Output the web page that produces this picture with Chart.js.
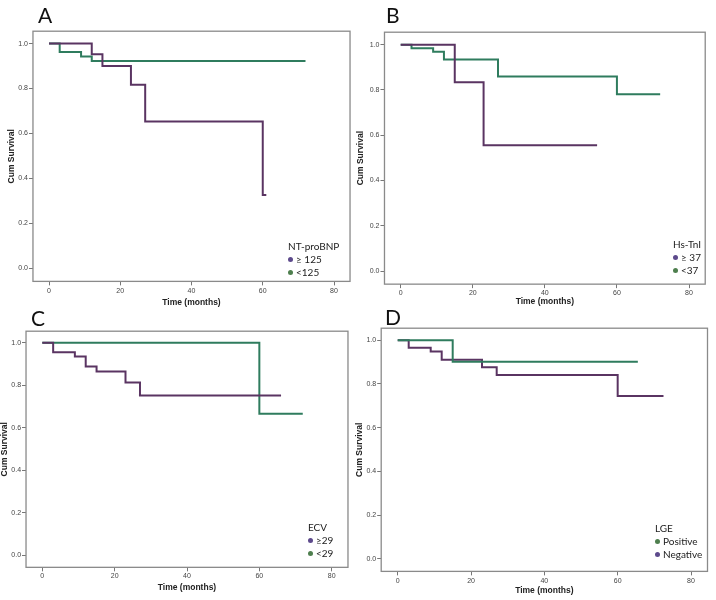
<!DOCTYPE html>
<html><head><meta charset="utf-8">
<script src="https://cdn.jsdelivr.net/npm/chart.js@4.4.1/dist/chart.umd.min.js"></script>
<style>
html,body{margin:0;padding:0;background:#fff;width:716px;height:600px;overflow:hidden;position:relative}
canvas{position:absolute}
.letter{position:absolute;font-family:Lato,sans-serif;font-size:21px;line-height:21px;color:#111}
.legend{position:absolute;font-family:Lato,sans-serif;font-size:10px;line-height:13px;color:#222;white-space:nowrap}
.dot{display:inline-block;width:5px;height:5px;border-radius:50%;margin-right:3px;vertical-align:1px}
</style></head><body>
<script>
// ---- data ----
const xTicks = [0, 20, 40, 60, 80];
const yTicks = [0, 0.2, 0.4, 0.6, 0.8, 1.0];
const xTitle = 'Time (months)';
const yTitle = 'Cum Survival';

const panelLetters = ['A', 'B', 'C', 'D'];
const legendTitles = ['NT-proBNP', 'Hs-TnI', 'ECV', 'LGE'];

// Panel A: NT-proBNP
const aHighLabel = '≥ 125';
const aHighTime = [0, 12, 15, 23, 27, 60, 61];
const aHighSurv = [1.0, 0.953, 0.900, 0.817, 0.653, 0.326, 0.326];
const aLowLabel = '<125';
const aLowTime = [0, 3, 9, 12, 72];
const aLowSurv = [1.0, 0.963, 0.942, 0.922, 0.922];

// Panel B: Hs-TnI
const bHighLabel = '≥ 37';
const bHighTime = [0, 15, 23, 54.5];
const bHighSurv = [1.0, 0.834, 0.556, 0.556];
const bLowLabel = '<37';
const bLowTime = [0, 3, 9, 12, 27, 60, 72];
const bLowSurv = [1.0, 0.984, 0.969, 0.934, 0.859, 0.781, 0.781];

// Panel C: ECV
const cHighLabel = '≥29';
const cHighTime = [0, 3, 9, 12, 15, 23, 27, 66];
const cHighSurv = [1.0, 0.956, 0.936, 0.889, 0.865, 0.813, 0.752, 0.752];
const cLowLabel = '<29';
const cLowTime = [0, 60, 72];
const cLowSurv = [1.0, 0.666, 0.666];

// Panel D: LGE
const dPosLabel = 'Positive';
const dPosTime = [0, 15, 65.5];
const dPosSurv = [1.0, 0.902, 0.902];
const dNegLabel = 'Negative';
const dNegTime = [0, 3, 9, 12, 23, 27, 60, 72.5];
const dNegSurv = [1.0, 0.965, 0.948, 0.911, 0.876, 0.841, 0.745, 0.745];

// ---- styles ----
const PURPLE = '#5a3462';
const GREEN = '#2f7c5e';
const PURPLE_DOT = '#5d4a8c';
const GREEN_DOT = '#4e7f4e';

const panelSeries = [
  [{label: aHighLabel, t: aHighTime, s: aHighSurv, c: PURPLE, d: PURPLE_DOT}, {label: aLowLabel, t: aLowTime, s: aLowSurv, c: GREEN, d: GREEN_DOT}],
  [{label: bHighLabel, t: bHighTime, s: bHighSurv, c: PURPLE, d: PURPLE_DOT}, {label: bLowLabel, t: bLowTime, s: bLowSurv, c: GREEN, d: GREEN_DOT}],
  [{label: cHighLabel, t: cHighTime, s: cHighSurv, c: PURPLE, d: PURPLE_DOT}, {label: cLowLabel, t: cLowTime, s: cLowSurv, c: GREEN, d: GREEN_DOT}],
  [{label: dPosLabel, t: dPosTime, s: dPosSurv, c: GREEN, d: GREEN_DOT}, {label: dNegLabel, t: dNegTime, s: dNegSurv, c: PURPLE, d: PURPLE_DOT}]
];

// ---- layout (page pixel anchors) ----
const X_MIN = -4.5, X_MAX = 84.5, Y_MIN = -0.058, Y_MAX = 1.055;
const layouts = [
  {x0: 49, x80: 334, y1: 42.7, y0: 268.3, yTitleX: 11.5, xTitleY: 303, letter: [38, 3.5], legend: [288, 239.8]},
  {x0: 400.7, x80: 689, y1: 44.3, y0: 271, yTitleX: 361, xTitleY: 302, letter: [386, 3.5], legend: [673, 237.8]},
  {x0: 42.3, x80: 331.7, y1: 342.3, y0: 555, yTitleX: 4.5, xTitleY: 587.5, letter: [31, 306.5], legend: [308, 520.8]},
  {x0: 397.7, x80: 691, y1: 340, y0: 558.7, yTitleX: 359.5, xTitleY: 591, letter: [385, 305.5], legend: [655, 521.8]}
];

const boxPlugin = {
  id: 'box',
  afterDraw(chart) {
    const a = chart.chartArea, ctx = chart.ctx;
    ctx.save();
    ctx.strokeStyle = '#8a8a8a';
    ctx.lineWidth = 1.3;
    ctx.strokeRect(a.left, a.top, a.right - a.left, a.bottom - a.top);
    ctx.restore();
  }
};

function build(idx) {
  const p = layouts[idx];
  const sx = (p.x80 - p.x0) / 80, sy = (p.y0 - p.y1);
  const boxL = p.x0 + X_MIN * sx, boxR = p.x0 + X_MAX * sx;
  const boxT = p.y0 - Y_MAX * sy, boxB = p.y0 - Y_MIN * sy;
  const cL = Math.floor(p.yTitleX - 8.1), cT = Math.floor(boxT - 4);
  const cR = Math.ceil(boxR + 6), cB = Math.ceil(p.xTitleY + 8.1);
  const cv = document.createElement('canvas');
  cv.width = cR - cL; cv.height = cB - cT;
  cv.style.left = cL + 'px'; cv.style.top = cT + 'px';
  cv.style.width = (cR - cL) + 'px'; cv.style.height = (cB - cT) + 'px';
  document.body.appendChild(cv);

  const datasets = panelSeries[idx].map(sr => ({
    label: sr.label,
    data: sr.t.map((t, i) => ({x: t, y: sr.s[i]})),
    borderColor: sr.c,
    borderWidth: 2,
    pointRadius: 0,
    fill: false,
    stepped: true
  }));

  const tickFont = {size: 7, family: 'Liberation Sans'};
  const titleFont = {size: 8.5, weight: 'bold', family: 'Liberation Sans', lineHeight: 1.2};

  new Chart(cv, {
    type: 'line',
    data: {datasets},
    options: {
      responsive: false, animation: false, devicePixelRatio: 1,
      layout: {padding: {left: 0, top: boxT - cT, right: cR - boxR, bottom: 0}},
      plugins: {legend: {display: false}, tooltip: {enabled: false}},
      scales: {
        x: {
          type: 'linear', min: X_MIN, max: X_MAX,
          afterFit: s => { s.height = cB - boxB; },
          afterBuildTicks: s => { s.ticks = xTicks.map(v => ({value: v})); },
          ticks: {font: tickFont, color: '#444', padding: 1, maxRotation: 0, autoSkip: false, callback: v => String(v)},
          grid: {drawOnChartArea: false, tickLength: 4, color: '#777'},
          border: {display: false},
          title: {display: true, text: xTitle, font: titleFont, color: '#222', padding: {top: 0, bottom: cB - p.xTitleY - 5.1}}
        },
        y: {
          type: 'linear', min: Y_MIN, max: Y_MAX,
          afterFit: s => { s.width = boxL - cL; },
          afterBuildTicks: s => { s.ticks = yTicks.map(v => ({value: v})); },
          ticks: {font: tickFont, color: '#444', padding: 1, autoSkip: false, callback: v => Number(v).toFixed(1)},
          grid: {drawOnChartArea: false, tickLength: 4, color: '#777'},
          border: {display: false},
          title: {display: true, text: yTitle, font: titleFont, color: '#222', padding: {top: p.yTitleX - cL - 5.1, bottom: 0}}
        }
      }
    },
    plugins: [boxPlugin]
  });

  const L = document.createElement('div');
  L.className = 'letter';
  L.style.left = p.letter[0] + 'px'; L.style.top = p.letter[1] + 'px';
  L.textContent = panelLetters[idx];
  document.body.appendChild(L);

  const lg = document.createElement('div');
  lg.className = 'legend';
  lg.style.left = p.legend[0] + 'px'; lg.style.top = p.legend[1] + 'px';
  const tl = document.createElement('div');
  tl.textContent = legendTitles[idx];
  lg.appendChild(tl);
  panelSeries[idx].forEach(sr => {
    const row = document.createElement('div');
    const dot = document.createElement('span');
    dot.className = 'dot'; dot.style.background = sr.d;
    row.appendChild(dot);
    row.appendChild(document.createTextNode(sr.label));
    lg.appendChild(row);
  });
  document.body.appendChild(lg);
}

for (let i = 0; i < 4; i++) build(i);
</script>
</body></html>
